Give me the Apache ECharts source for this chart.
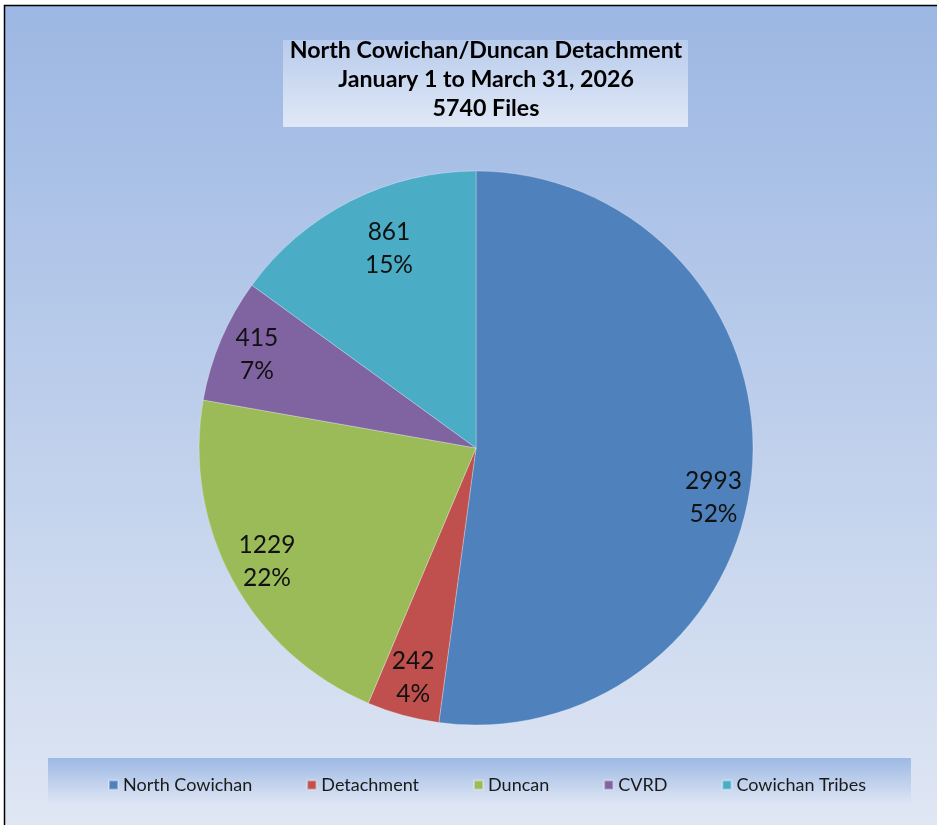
<!DOCTYPE html>
<html>
<head>
<meta charset="utf-8">
<script src="https://cdn.jsdelivr.net/npm/echarts@6/dist/echarts.min.js"></script>
<style>
html,body{margin:0;padding:0;background:#fff;}
#chart{width:937px;height:825px;}
</style>
</head>
<body>
<div id="chart"></div>
<script>
var titleLines = ['North Cowichan/Duncan Detachment', 'January 1 to March 31, 2026', '5740 Files'];
var categories = ['North Cowichan', 'Detachment', 'Duncan', 'CVRD', 'Cowichan Tribes'];
var values = [2993, 242, 1229, 415, 861];
var colors = ['#4f81bd', '#c0504d', '#9bbb59', '#8064a2', '#4bacc6'];

var chart = echarts.init(document.getElementById('chart'), null, {renderer: 'canvas'});
var mainData = categories.map(function (c, i) {
  return {name: c, value: values[i], itemStyle: {color: colors[i]}};
});
var labelData = categories.map(function (c, i) {
  return {name: c, value: values[i]};
});
var FONT = 'Lato, "Open Sans", sans-serif';
// Excel "best fit" nudges for two labels
var labelNudge = {0: {dx: 0, dy: 34}, 4: {dx: 21, dy: 13}};

var option = {
  backgroundColor: '#ffffff',
  graphic: [
    {type: 'rect', z: -10, shape: {x: 4.5, y: 5.5, width: 940, height: 830},
     style: {fill: new echarts.graphic.LinearGradient(0, 0, 0, 1, [
       {offset: 0, color: '#9cb7e3'}, {offset: 1, color: '#e0e7f4'}]),
       stroke: '#000', lineWidth: 1.5}},
    {type: 'rect', z: -9, shape: {x: 283, y: 40, width: 405, height: 87},
     style: {fill: new echarts.graphic.LinearGradient(0, 0, 0, 1, [
       {offset: 0, color: '#b9ccec'}, {offset: 1, color: '#e0e8f6'}])}},
    {type: 'rect', z: -9, shape: {x: 48, y: 758, width: 863, height: 47},
     style: {fill: new echarts.graphic.LinearGradient(0, 0, 0, 1, [
       {offset: 0, color: '#9db9e4'}, {offset: 1, color: '#dfe6f4'}])}}
  ],
  title: {
    text: titleLines.join('\n'),
    left: 481,
    textAlign: 'center',
    top: 31,
    textStyle: {fontFamily: FONT, fontWeight: 'bold', fontSize: 23.2, lineHeight: 29, color: '#000'}
  },
  legend: {
    data: categories,
    top: 771,
    left: 103,
    itemWidth: 9,
    itemHeight: 9,
    itemGap: 54,
    icon: 'rect',
    textStyle: {fontFamily: FONT, fontSize: 18, color: '#1a1a1a'}
  },
  series: [
    {
      type: 'pie',
      center: [476, 448],
      radius: [0, 277],
      startAngle: 90,
      clockwise: true,
      percentPrecision: 0,
      data: mainData,
      label: {show: false},
      labelLine: {show: false},
      itemStyle: {borderColor: 'rgba(255,255,255,0.35)', borderWidth: 0.8},
      emphasis: {disabled: true},
      silent: true,
      animation: false
    },
    {
      type: 'pie',
      center: [476, 448],
      radius: [200, 270],
      startAngle: 90,
      clockwise: true,
      percentPrecision: 0,
      data: labelData,
      itemStyle: {color: 'rgba(0,0,0,0)'},
      label: {
        show: true,
        position: 'inside',
        formatter: '{c}\n{d}%',
        fontFamily: FONT,
        fontSize: 24.5,
        lineHeight: 33,
        color: '#111'
      },
      labelLayout: function (p) {
        return labelNudge[p.dataIndex] || {};
      },
      labelLine: {show: false},
      emphasis: {disabled: true},
      silent: true,
      animation: false
    }
  ]
};
chart.setOption(option);
</script>
</body>
</html>
